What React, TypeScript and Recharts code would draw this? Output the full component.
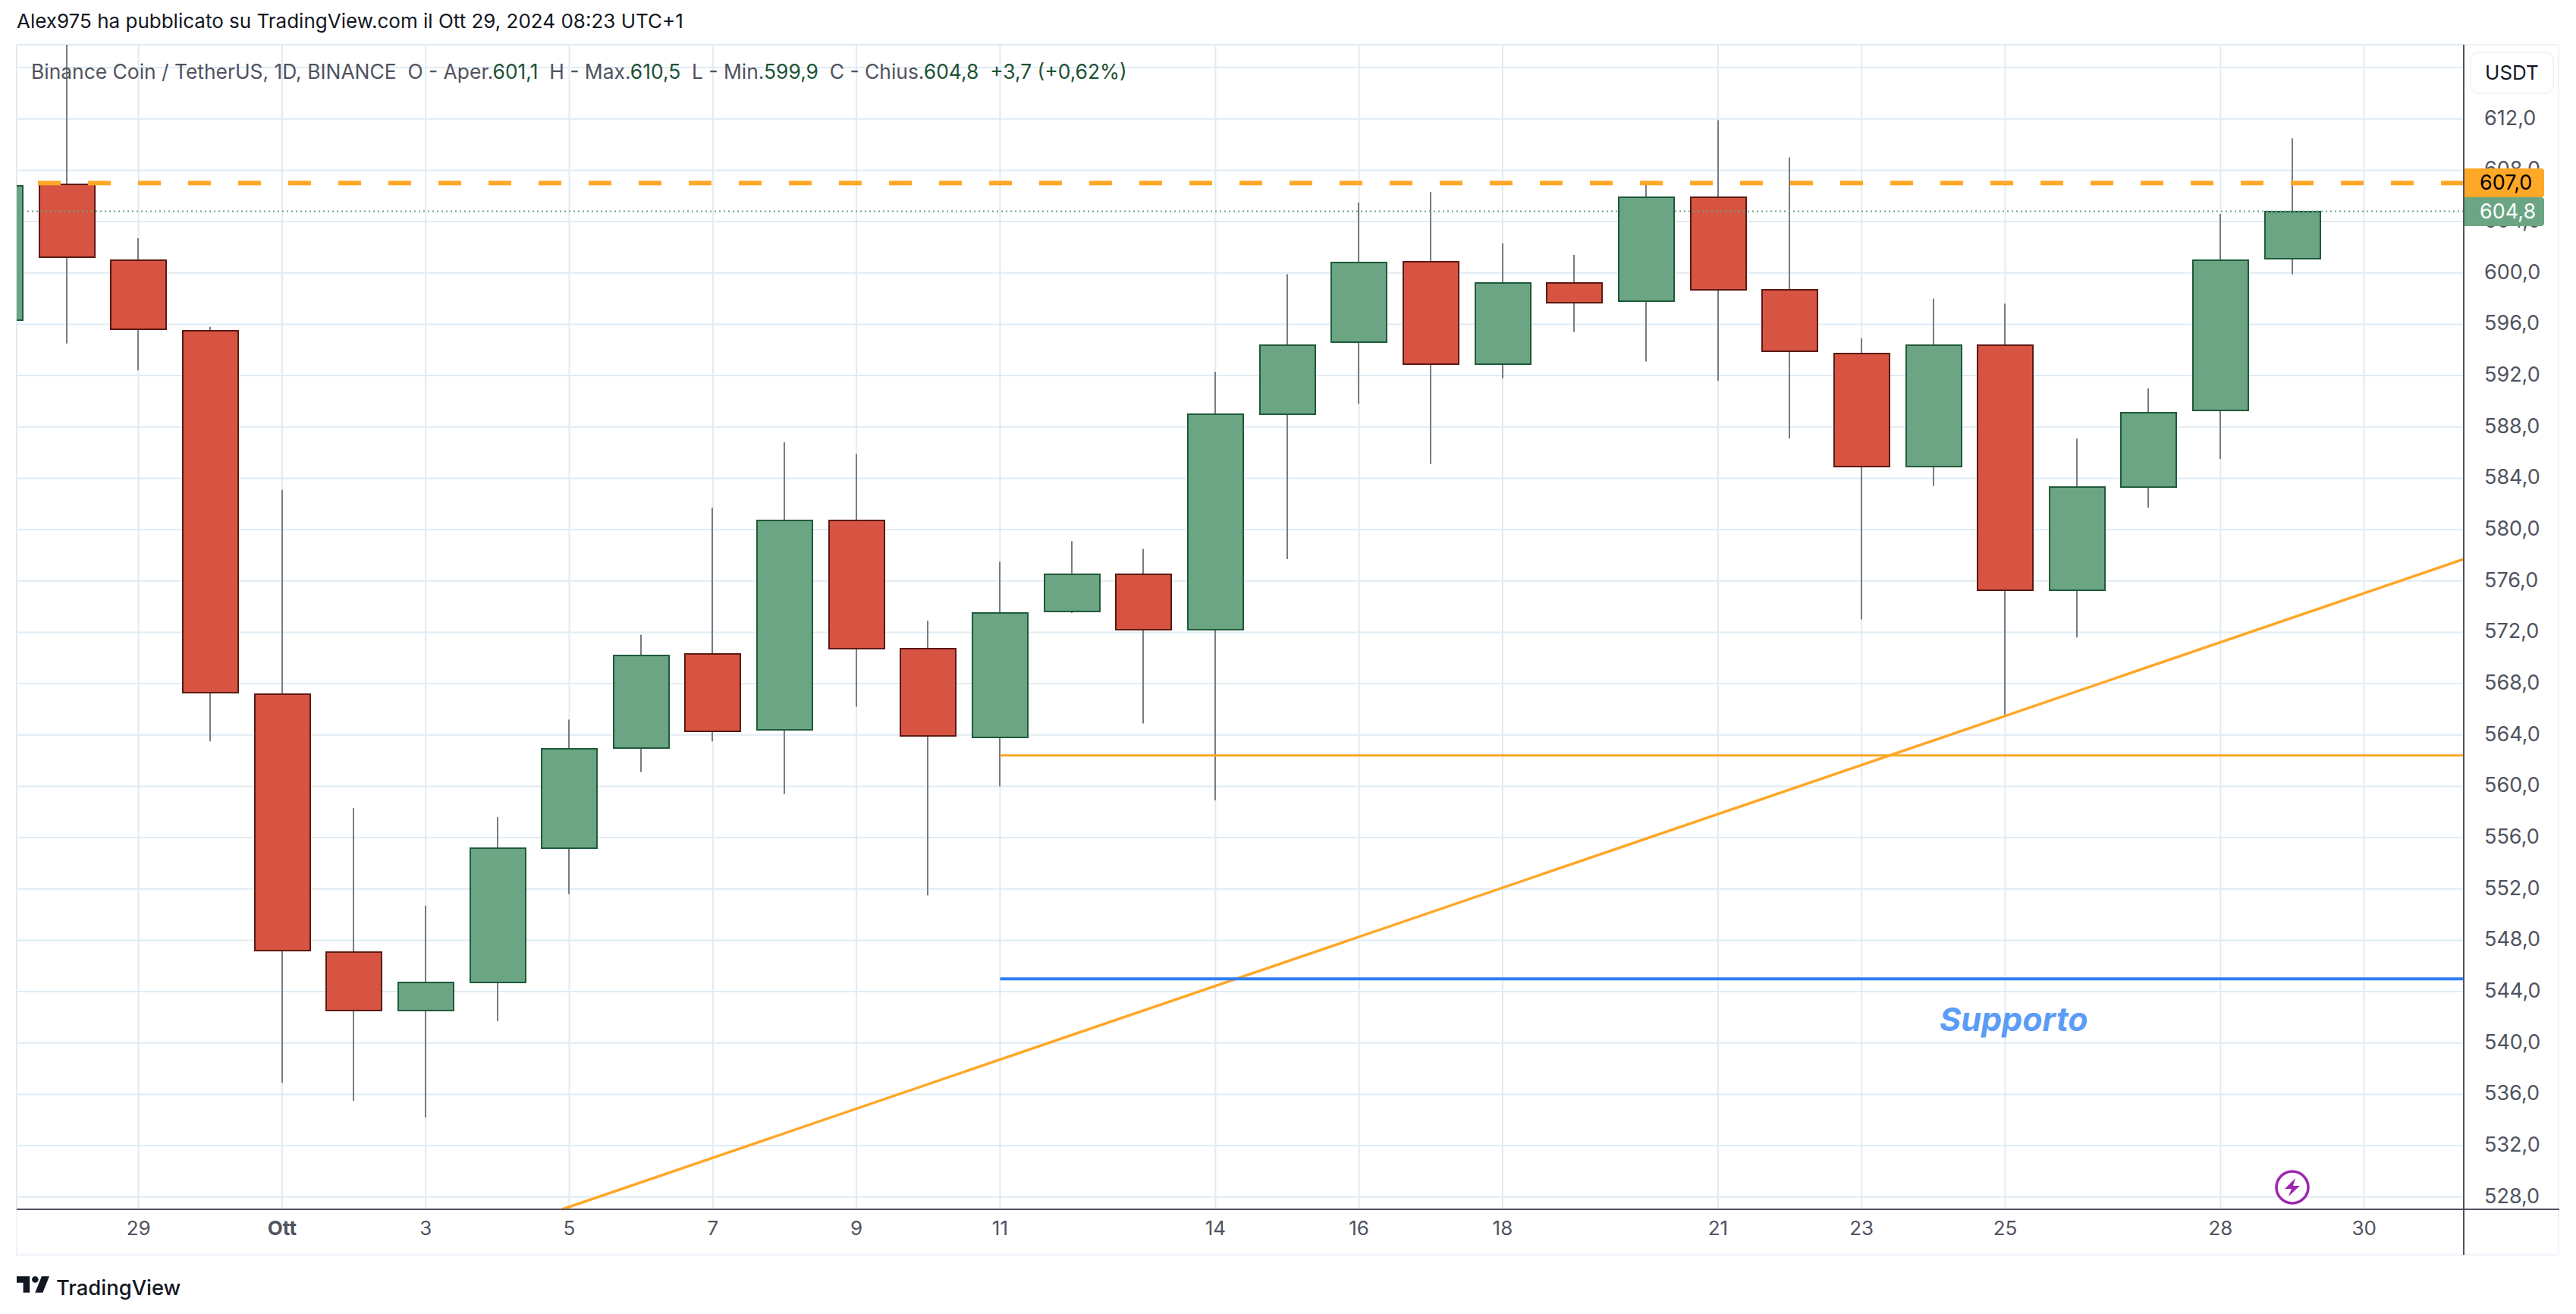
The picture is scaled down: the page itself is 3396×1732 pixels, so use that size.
import { Bar, CartesianGrid, ComposedChart, ReferenceLine, XAxis, YAxis } from "recharts";

// giorni contati da 29 settembre = 0
const DAYS = [-2, -1, 0, 1, 2, 3, 4, 5, 6, 7, 8, 9, 10, 11, 12, 13, 14, 15, 16, 17, 18, 19, 20, 21, 22, 23, 24, 25, 26, 27, 28, 29, 30];
const OPENS = [596.3, 606.9, 601.0, 595.5, 567.2, 547.1, 542.5, 544.7, 555.2, 563.0, 570.3, 564.4, 580.7, 570.7, 563.8, 573.6, 576.5, 572.2, 589.0, 594.6, 600.9, 592.9, 599.2, 597.8, 605.9, 598.7, 593.7, 584.9, 594.4, 575.3, 583.3, 589.3, 601.1];
const HIGHS = [607.5, 621.0, 602.7, 595.8, 583.1, 558.3, 550.7, 557.6, 565.2, 571.8, 581.7, 586.8, 585.9, 572.9, 577.5, 579.1, 578.5, 592.3, 599.9, 605.5, 606.3, 602.3, 601.4, 607.2, 611.9, 609.0, 594.9, 598.0, 597.6, 587.1, 591.0, 604.6, 610.5];
const LOWS = [595.0, 594.5, 592.4, 563.5, 536.9, 535.5, 534.2, 541.7, 551.6, 561.1, 563.5, 559.4, 566.2, 551.5, 560.0, 573.5, 564.9, 558.9, 577.7, 589.8, 585.1, 591.8, 595.4, 593.1, 591.6, 587.1, 573.0, 583.4, 565.6, 571.6, 581.7, 585.5, 599.9];
const CLOSES = [606.8, 601.2, 595.6, 567.3, 547.2, 542.5, 544.7, 555.2, 562.9, 570.2, 564.3, 580.7, 570.7, 563.9, 573.5, 576.5, 572.2, 589.0, 594.4, 600.8, 592.9, 599.2, 597.7, 605.9, 598.7, 593.9, 584.9, 594.4, 575.3, 583.3, 589.1, 601.0, 604.8];

const TICK_DAYS = [0, 2, 4, 6, 8, 10, 12, 15, 17, 19, 22, 24, 26, 29, 31];
const TICK_LABELS = ["29", "Ott", "3", "5", "7", "9", "11", "14", "16", "18", "21", "23", "25", "28", "30"];
const PRICE_TICKS = [528, 532, 536, 540, 544, 548, 552, 556, 560, 564, 568, 572, 576, 580, 584, 588, 592, 596, 600, 604, 608, 612, 616];

const X_DOMAIN = [-1.697, 32.387];
const Y_DOMAIN = [527.04, 617.78];
const RESISTANCE = 607.0;
const LAST_PRICE = 604.8;
const TREND_START = { x: 5.9, y: 527.04 };
const TREND_END = { x: 32.387, y: 577.7 };
const SUPPORT_A = 562.4;
const SUPPORT_B = 545.0;
const LINES_START_DAY = 12;

const candles = DAYS.map((day, i) => ({
  day,
  open: OPENS[i],
  high: HIGHS[i],
  low: LOWS[i],
  close: CLOSES[i],
  range: [LOWS[i], HIGHS[i]],
}));

const GREY = "#50535e";
const ORANGE = "#ffa726";
const GREEN = "#6ba583";
const FONT = "Inter, 'Noto Sans', sans-serif";

const Candle = (props: any) => {
  const { x, y, width, height, payload } = props;
  const { open, high, low, close } = payload;
  const pxPerUnit = height / (high - low);
  const up = close >= open;
  const bodyTop = Math.round(y + (high - Math.max(open, close)) * pxPerUnit);
  const bodyBottom = Math.round(y + (high - Math.min(open, close)) * pxPerUnit);
  const left = Math.round(x);
  const cx = left + 37;
  return (
    <g>
      <line x1={cx} x2={cx} y1={y} y2={y + height} stroke="#787b86" strokeWidth={2} />
      <rect
        x={left + 1}
        y={bodyTop}
        width={width - 2}
        height={bodyBottom - bodyTop}
        fill={up ? GREEN : "#d75442"}
        stroke={up ? "#1f5a3a" : "#5b1a13"}
        strokeWidth={2}
      />
    </g>
  );
};

const DayTick = (props: any) => {
  const { x, y, payload } = props;
  const label = TICK_LABELS[TICK_DAYS.indexOf(payload.value)];
  return (
    <text x={x} y={y} dy={26} textAnchor="middle" fontFamily={FONT} fontSize={26} fill={GREY} fontWeight={label === "Ott" ? 700 : 400}>
      {label}
    </text>
  );
};

// 616,0 sta sotto il riquadro USDT, nel riferimento non si legge
const PriceTick = (props: any) => {
  const { x, y, payload } = props;
  if (payload.value === 616) return null;
  return (
    <text x={x + 19} y={y} dy={8} fontFamily={FONT} fontSize={27} fill={GREY}>
      {payload.value.toFixed(1).replace(".", ",")}
    </text>
  );
};

const priceBadge = (text: string, bg: string, color: string) => (props: any) => {
  const { viewBox } = props;
  const right = viewBox.x + viewBox.width;
  const mid = Math.round(viewBox.y);
  return (
    <g>
      <rect x={right + 1} y={mid - 19} width={105} height={38} rx={4} fill={bg} />
      <rect x={right + 1} y={mid - 19} width={20} height={38} fill={bg} />
      <text x={right + 21} y={mid + 9} fontFamily={FONT} fontSize={27} fill={color}>
        {text}
      </text>
    </g>
  );
};

const abs = (left: number, top: number, extra: object = {}) => ({ position: "absolute" as const, left, top, ...extra });

export default function App() {
  return (
    <div style={{ position: "absolute", left: 0, top: 0, width: 3396, height: 1732, background: "#fff", fontFamily: FONT, overflow: "hidden" }}>
      <div style={abs(22, 10, { fontSize: 26, lineHeight: "36px", color: "#131722", whiteSpace: "nowrap" })}>
        Alex975 ha pubblicato su TradingView.com il Ott 29, 2024 08:23 UTC+1
      </div>

      <div style={abs(21, 58, { width: 3353, height: 1597, border: "2px solid #f0f3fa", boxSizing: "border-box" })} />

      <div style={abs(0, 0)}>
        <ComposedChart
          width={3396}
          height={1732}
          data={candles}
          margin={{ top: 59, left: 22, right: 22, bottom: 77 }}
        >
          <CartesianGrid stroke="#e0ebf3" strokeWidth={2} />
          <XAxis
            dataKey="day"
            type="number"
            domain={X_DOMAIN}
            ticks={TICK_DAYS}
            interval={0}
            allowDataOverflow
            height={61}
            tick={<DayTick />}
            tickLine={false}
            axisLine={{ stroke: GREY, strokeWidth: 2 }}
          />
          <YAxis
            orientation="right"
            type="number"
            domain={Y_DOMAIN}
            ticks={PRICE_TICKS}
            interval={0}
            allowDataOverflow
            width={126}
            tick={<PriceTick />}
            tickLine={false}
            axisLine={{ stroke: GREY, strokeWidth: 2 }}
          />
          <ReferenceLine y={LAST_PRICE} stroke={GREEN} strokeWidth={2} strokeDasharray="2 4" />
          <ReferenceLine y={RESISTANCE} stroke={ORANGE} strokeWidth={6} strokeDasharray="30 36" />
          <Bar dataKey="range" barSize={75} shape={<Candle />} isAnimationActive={false} />
          <ReferenceLine
            segment={[TREND_START, TREND_END]}
            stroke={ORANGE}
            strokeWidth={3.5}
          />
          <ReferenceLine
            segment={[{ x: LINES_START_DAY, y: SUPPORT_A }, { x: X_DOMAIN[1], y: SUPPORT_A }]}
            stroke="#f9a825"
            strokeWidth={3}
          />
          <ReferenceLine
            segment={[{ x: LINES_START_DAY, y: SUPPORT_B }, { x: X_DOMAIN[1], y: SUPPORT_B }]}
            stroke="#2f7ef6"
            strokeWidth={4}
          />
        </ComposedChart>
      </div>

      {/* secondo strato: le etichette di prezzo coprono i tick dell'asse */}
      <div style={abs(0, 0)}>
        <ComposedChart
          width={3396}
          height={1732}
          data={candles}
          margin={{ top: 59, left: 22, right: 148, bottom: 138 }}
        >
          <XAxis dataKey="day" type="number" domain={X_DOMAIN} hide allowDataOverflow />
          <YAxis type="number" domain={Y_DOMAIN} hide allowDataOverflow />
          <ReferenceLine y={LAST_PRICE} stroke="none" label={priceBadge("604,8", GREEN, "#fff")} />
          <ReferenceLine y={RESISTANCE} stroke="none" label={priceBadge("607,0", ORANGE, "#000")} />
        </ComposedChart>
      </div>

      <div style={abs(3247, 1594, { width: 2, height: 60, background: GREY })} />
      <div style={abs(3248, 1593, { width: 126, height: 2, background: GREY })} />

      <div style={abs(41, 75, { fontSize: 26.4, lineHeight: "38px", color: GREY, whiteSpace: "pre" })}>
        {"Binance Coin / TetherUS, 1D, BINANCE  O - Aper."}
        <span style={{ color: "#1e5236" }}>601,1</span>
        {"  H - Max."}
        <span style={{ color: "#1e5236" }}>610,5</span>
        {"  L - Min."}
        <span style={{ color: "#1e5236" }}>599,9</span>
        {"  C - Chius."}
        <span style={{ color: "#1e5236" }}>604,8</span>
        <span style={{ color: "#1e5236" }}>{"  +3,7 (+0,62%)"}</span>
      </div>

      <div
        style={abs(3256, 68, {
          width: 111,
          height: 56,
          background: "#fff",
          border: "2px solid #f0f3fa",
          borderRadius: 12,
          boxSizing: "border-box",
          textAlign: "center",
          lineHeight: "52px",
          fontSize: 26,
          color: "#131722",
        })}
      >
        USDT
      </div>

      <div style={abs(2557, 1316, { fontSize: 43, lineHeight: "54px", fontWeight: 700, fontStyle: "italic", color: "#5b9cf6", whiteSpace: "nowrap" })}>
        Supporto
      </div>

      <svg style={abs(2998, 1541)} width={48} height={48} viewBox="0 0 48 48">
        <circle cx={24} cy={24} r={21} fill="#fff" stroke="#9c27b0" strokeWidth={3.5} />
        <path d="M28 12 L14 26 H23 L19 36 L34 22 H25 Z" fill="#9c27b0" />
      </svg>

      <svg style={abs(22, 1682)} width={43} height={22} viewBox="2 6 30 15">
        <path d="M14 6H2v6h6v9h6V6zm12 15h-7l6-15h7l-6 15zm-7-9a3 3 0 1 0 0-6 3 3 0 0 0 0 6z" fill="#131722" />
      </svg>
      <div style={abs(74, 1677, { fontSize: 27.4, lineHeight: "40px", color: "#131722", fontWeight: 500, whiteSpace: "nowrap" })}>
        TradingView
      </div>
    </div>
  );
}
